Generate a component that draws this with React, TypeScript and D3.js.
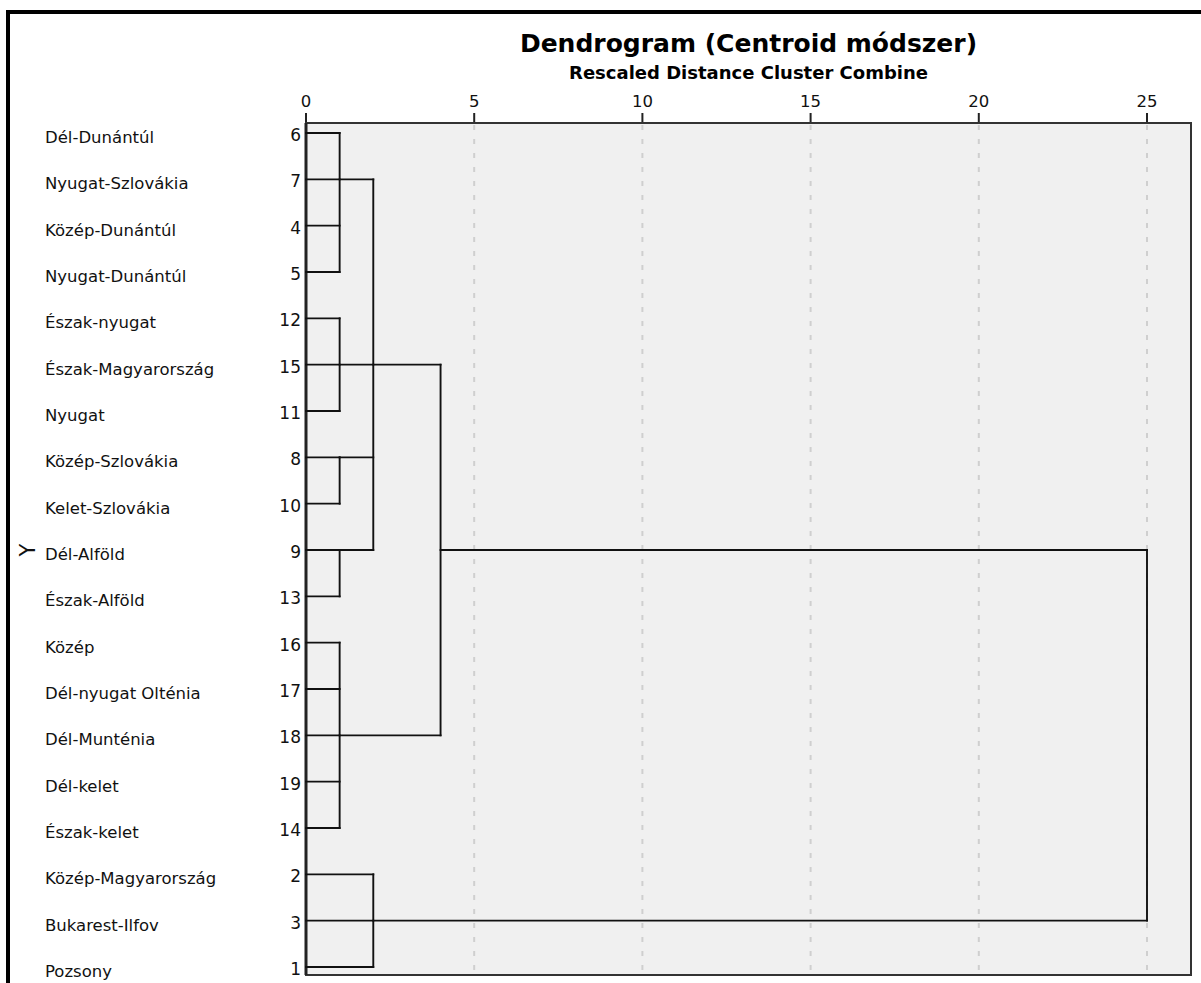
import React from "react";
import * as d3 from "d3";

const leafLabels = [
  "Dél-Dunántúl", "Nyugat-Szlovákia", "Közép-Dunántúl", "Nyugat-Dunántúl",
  "Észak-nyugat", "Észak-Magyarország", "Nyugat", "Közép-Szlovákia",
  "Kelet-Szlovákia", "Dél-Alföld", "Észak-Alföld", "Közép",
  "Dél-nyugat Olténia", "Dél-Munténia", "Dél-kelet", "Észak-kelet",
  "Közép-Magyarország", "Bukarest-Ilfov", "Pozsony",
];
const leafIds = [6, 7, 4, 5, 12, 15, 11, 8, 10, 9, 13, 16, 17, 18, 19, 14, 2, 3, 1];

// merges: children refer to leaves ("L<i>") or previous clusters ("C<j>")
const mergeChildren = [
  ["L0", "L1", "L2", "L3"],
  ["L4", "L5", "L6"],
  ["L7", "L8"],
  ["L9", "L10"],
  ["L11", "L12", "L13", "L14", "L15"],
  ["L16", "L17", "L18"],
  ["C0", "C1", "C2", "C3"],
  ["C6", "C4"],
  ["C7", "C5"],
];
const mergeHeights = [1, 1, 1, 1, 1, 2, 2, 4, 25];

const xTicks = [0, 5, 10, 15, 20, 25];
const markedRow = 9;

export default function App() {
  const W = 1201, H = 983;
  const x = d3.scaleLinear().domain([0, 25]).range([306, 1147]);
  const y = d3.scaleLinear().domain([0, leafLabels.length - 1]).range([133, 967]);
  const plot = { l: 306, r: 1191, t: 123, b: 975 };

  const rowOf: Record<string, number> = {};
  const hOf: Record<string, number> = {};
  leafLabels.forEach((_, i) => { rowOf["L" + i] = i; hOf["L" + i] = 0; });
  const segs: { x1: number; y1: number; x2: number; y2: number }[] = [];
  mergeChildren.forEach((ch, j) => {
    const h = mergeHeights[j];
    const rows = ch.map((c) => rowOf[c]);
    const mn = d3.min(rows)!, mx = d3.max(rows)!;
    ch.forEach((c) => {
      segs.push({ x1: x(hOf[c]), y1: y(rowOf[c]), x2: x(h), y2: y(rowOf[c]) });
    });
    segs.push({ x1: x(h), y1: y(mn), x2: x(h), y2: y(mx) });
    rowOf["C" + j] = Math.floor((mn + mx) / 2);
    hOf["C" + j] = h;
  });

  const font = "'DejaVu Sans', sans-serif";

  return (
    <svg width={W} height={H} style={{ position: "absolute", left: 0, top: 0, background: "#fff" }}>
      <rect x={8} y={12} width={W + 20} height={H + 20} fill="none" stroke="#000" strokeWidth={4} />
      <text x={748.5} y={52} textAnchor="middle" fontFamily={font} fontWeight="bold" fontSize={25} fill="#000">
        Dendrogram (Centroid módszer)
      </text>
      <text x={748.5} y={79} textAnchor="middle" fontFamily={font} fontWeight="bold" fontSize={18} fill="#000">
        Rescaled Distance Cluster Combine
      </text>
      <rect x={plot.l} y={plot.t} width={plot.r - plot.l} height={plot.b - plot.t} fill="#f0f0f0" />
      {xTicks.filter((t) => t > 0).map((t) => (
        <line key={"g" + t} x1={x(t)} x2={x(t)} y1={plot.t + 2} y2={plot.b - 1}
          stroke="#cfcfcf" strokeWidth={2} strokeDasharray="5,9" />
      ))}
      {xTicks.map((t) => (
        <g key={"t" + t}>
          <line x1={x(t)} x2={x(t)} y1={113} y2={plot.t} stroke="#222" strokeWidth={2} />
          <text x={x(t)} y={107} textAnchor="middle" fontFamily={font} fontSize={16.5} fill="#111">{t}</text>
        </g>
      ))}
      <rect x={plot.l} y={plot.t} width={plot.r - plot.l} height={plot.b - plot.t} fill="none" stroke="#333" strokeWidth={2} />
      <line x1={plot.l} x2={plot.l} y1={plot.t} y2={plot.b} stroke="#222" strokeWidth={3} />
      {segs.map((s, i) => (
        <line key={"s" + i} x1={s.x1} y1={s.y1} x2={s.x2} y2={s.y2} stroke="#111" strokeWidth={1.9} strokeLinecap="square" />
      ))}
      {leafLabels.map((lab, i) => (
        <g key={"l" + i}>
          <text x={45} y={y(i) + 10} fontFamily={font} fontSize={16.5} fill="#111">{lab}</text>
          <text x={301} y={y(i) + 8} textAnchor="end" fontFamily={font} fontSize={17} fill="#111">{leafIds[i]}</text>
        </g>
      ))}
      <text transform={`translate(${35},${y(markedRow)}) rotate(-90)`} textAnchor="middle" fontFamily={font} fontSize={21} fill="#111">Y</text>
    </svg>
  );
}
